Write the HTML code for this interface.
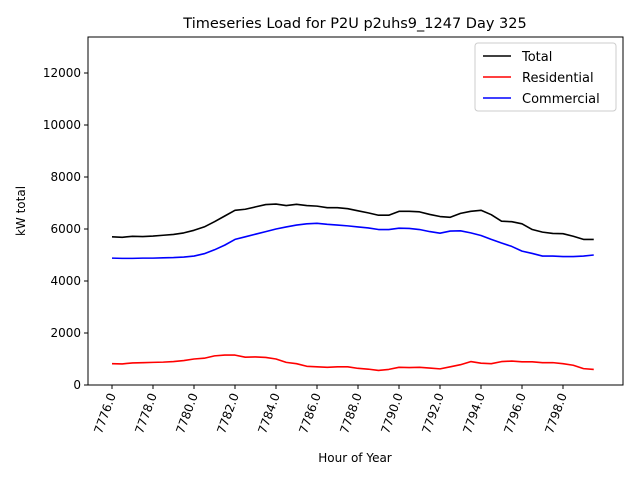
<!DOCTYPE html>
<html><head><meta charset="utf-8"><style>
body{margin:0;background:#fff;font-family:"DejaVu Sans","Liberation Sans",sans-serif;}
svg text{font-family:"DejaVu Sans","Liberation Sans",sans-serif;}
</style></head><body>
<svg id="chart" width="640" height="480" xmlns="http://www.w3.org/2000/svg">
<rect width="640" height="480" fill="#fff"/>
<g id="plot"></g>
</svg>
<script>
const hours=[];for(let i=0;i<48;i++)hours.push(7776+i*0.5);
const totalLoad=[5700,5680,5720,5710,5730,5760,5790,5850,5950,6080,6280,6500,6720,6760,6850,6940,6960,6900,6950,6900,6880,6820,6820,6780,6700,6620,6530,6530,6680,6680,6660,6560,6480,6450,6600,6680,6720,6550,6300,6280,6200,5980,5880,5830,5820,5720,5600,5600];
const residentialLoad=[820,810,850,860,870,880,900,940,1000,1030,1120,1150,1150,1070,1080,1060,1000,870,820,720,700,680,700,700,640,610,560,600,680,670,680,650,620,700,780,900,840,820,900,920,890,890,860,860,820,760,630,600];
const commercialLoad=[4880,4870,4870,4880,4880,4890,4900,4920,4960,5050,5200,5380,5600,5700,5800,5900,6000,6080,6150,6200,6220,6180,6150,6120,6080,6040,5980,5980,6030,6020,5980,5900,5840,5920,5930,5850,5750,5600,5460,5330,5150,5060,4960,4960,4940,4940,4960,5000];
const xTicks=[7776,7778,7780,7782,7784,7786,7788,7790,7792,7794,7796,7798];
const yTicks=[0,2000,4000,6000,8000,10000,12000];
const L=88,R=623,T=37,B=385;
const X=t=>112+(t-7776)*20.5;
const Y=v=>B-v*0.026;
const g=document.getElementById('plot');
const NS='http://www.w3.org/2000/svg';
function el(tag,attrs,parent){const e=document.createElementNS(NS,tag);for(const k in attrs)e.setAttribute(k,attrs[k]);(parent||g).appendChild(e);return e;}
const frame=el('rect',{x:L,y:T,width:R-L,height:B-T,fill:'none',stroke:'#000','stroke-width':1});


xTicks.forEach(t=>{
 const x=X(t);
 el('line',{x1:x,x2:x,y1:B,y2:B+4,stroke:'#000'});
 const tx=el('text',{x:0,y:0,'font-size':12,'text-anchor':'end',transform:`translate(${x+4},${B+10}) rotate(-70)`});
 tx.textContent=t.toFixed(1);
 
 
});
yTicks.forEach(v=>{
 const y=Y(v);
 el('line',{x1:L-4,x2:L,y1:y,y2:y,stroke:'#000'});
 const tx=el('text',{x:L-7,y:y+4,'font-size':12,'text-anchor':'end'});
 tx.textContent=v;
 
 
});
function series(vals,color,name){
 const p=el('polyline',{points:vals.map((v,i)=>X(hours[i])+','+Y(v)).join(' '),fill:'none',stroke:color,'stroke-width':1.6,'stroke-linejoin':'round'});
 
 
}
series(totalLoad,'#000','total-line');
series(residentialLoad,'#f00','residential-line');
series(commercialLoad,'#00f','commercial-line');
const title=el('text',{x:355,y:28,'font-size':14.5,'text-anchor':'middle'});
title.textContent='Timeseries Load for P2U p2uhs9_1247  Day 325';


const xt=el('text',{x:355,y:462,'font-size':12,'text-anchor':'middle'});
xt.textContent='Hour of Year';


const yt=el('text',{x:0,y:0,'font-size':12,'text-anchor':'middle',transform:'translate(25,211) rotate(-90)'});
yt.textContent='kW total';


const lg=el('g',{});


el('rect',{x:475,y:43,width:141,height:68,rx:3,fill:'#fff',stroke:'#ccc'},lg);
[['Total','#000',56],['Residential','#f00',77],['Commercial','#00f',98]].forEach(([n,c,y])=>{
 el('line',{x1:483,x2:511,y1:y,y2:y,stroke:c,'stroke-width':1.6},lg);
 const t=el('text',{x:522,y:y+5,'font-size':13},lg);
 t.textContent=n;
 
 
});
</script>
</body></html>
